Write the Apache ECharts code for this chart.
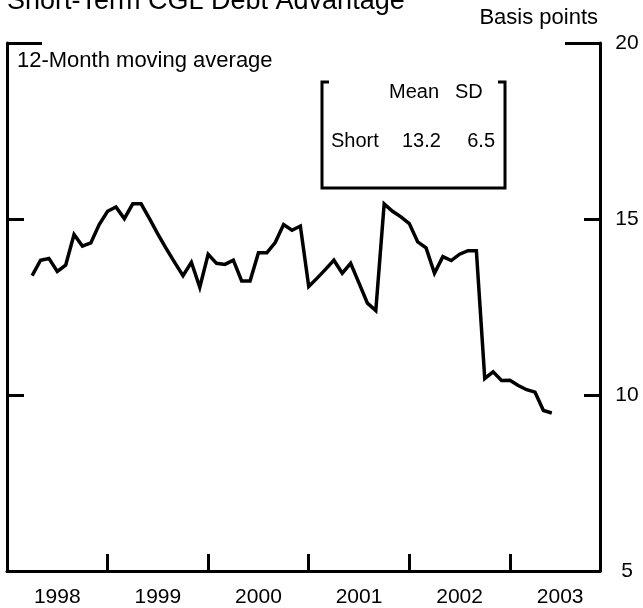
<!DOCTYPE html>
<html>
<head>
<meta charset="utf-8">
<script src="https://cdn.jsdelivr.net/npm/echarts@6/dist/echarts.min.js"></script>
<style>
html,body{margin:0;padding:0;background:#fff;}
#chart{width:643px;height:608px;}
</style>
</head>
<body>
<div id="chart"></div>
<script>
// Monthly 12-month moving average, basis points, from April 1998 (month index 3, Jan 1998 = 0)
const startMonthIndex = 3;
const values = [
  13.39, 13.83, 13.88, 13.51, 13.69, 14.56, 14.23, 14.32, 14.84,
  15.22, 15.34, 15.01, 15.43, 15.43, 15.01, 14.57, 14.16, 13.77, 13.39,
  13.77, 13.06, 14.00, 13.74, 13.71, 13.83, 13.24, 13.24, 14.04, 14.04,
  14.33, 14.84, 14.68, 14.80, 13.08, 13.32, 13.57, 13.83, 13.46, 13.74,
  13.18, 12.61, 12.40, 15.43, 15.22, 15.06, 14.87, 14.35, 14.18, 13.46,
  13.93, 13.82, 14.00, 14.10, 14.10, 10.47, 10.66, 10.41, 10.42, 10.27,
  10.15, 10.08, 9.56, 9.49
];
const yearLabels = ['1998', '1999', '2000', '2001', '2002', '2003'];
const yTicks = [5, 10, 15, 20];
const statsHeader = ['Mean', 'SD'];
const statsRow = ['Short', '13.2', '6.5'];

const seriesData = values.map((v, i) => [startMonthIndex + i, v]);
const yearTickValues = yearLabels.slice(1).map((_, i) => 12 * (i + 1));
const yearLabelValues = yearLabels.map((_, i) => 12 * i + 6);

const chart = echarts.init(document.getElementById('chart'), null, {renderer: 'canvas'});
const black = '#000';
const fontFamily = '"Liberation Sans", Arial, Helvetica, sans-serif';

chart.setOption({
  animation: false,
  backgroundColor: '#fff',
  grid: {left: 7, right: 43, top: 43, bottom: 34, containLabel: false},
  xAxis: {
    type: 'value', min: 0, max: 70.75,
    axisLine: {show: true, onZero: false, lineStyle: {color: black, width: 3}},
    axisTick: {show: true, inside: true, length: 17, customValues: yearTickValues, lineStyle: {color: black, width: 3}},
    axisLabel: {
      show: true, customValues: yearLabelValues, margin: 16,
      color: black, fontSize: 21, fontFamily: fontFamily,
      formatter: v => yearLabels[Math.round((v - 6) / 12)] || ''
    },
    splitLine: {show: false}
  },
  yAxis: [
    {
      type: 'value', position: 'right', min: 5, max: 20, interval: 5,
      axisLine: {show: true, onZero: false, lineStyle: {color: black, width: 3}},
      axisTick: {show: true, inside: true, length: 16, customValues: [10, 15], lineStyle: {color: black, width: 3}},
      axisLabel: {show: true, customValues: yTicks, margin: 27, align: 'center', color: black, fontSize: 21, fontFamily: fontFamily},
      splitLine: {show: false}
    },
    {
      type: 'value', position: 'right', min: 5, max: 20, interval: 5,
      axisLine: {show: false, onZero: false},
      axisTick: {show: true, inside: true, length: 35, customValues: [20], lineStyle: {color: black, width: 3}},
      axisLabel: {show: false},
      splitLine: {show: false}
    },
    {
      type: 'value', position: 'left', min: 5, max: 20, interval: 5,
      axisLine: {show: true, onZero: false, lineStyle: {color: black, width: 3}},
      axisTick: {show: true, inside: true, length: 17, customValues: [10, 15], lineStyle: {color: black, width: 3}},
      axisLabel: {show: false},
      splitLine: {show: false}
    },
    {
      type: 'value', position: 'left', min: 5, max: 20, interval: 5,
      axisLine: {show: false, onZero: false},
      axisTick: {show: true, inside: true, length: 35, customValues: [20], lineStyle: {color: black, width: 3}},
      axisLabel: {show: false},
      splitLine: {show: false}
    }
  ],
  series: [{
    type: 'line',
    yAxisIndex: 0,
    data: seriesData,
    symbol: 'none',
    smooth: false,
    lineStyle: {color: black, width: 3.5, join: 'miter'}
  }],
  graphic: [
    {type: 'text', x: 7, y: 2, style: {text: 'Short-Term CGL Debt Advantage', font: '27px ' + fontFamily, fill: black, verticalAlign: 'middle', align: 'left'}},
    {type: 'text', x: 598, y: 18, style: {text: 'Basis points', font: '22px ' + fontFamily, fill: black, verticalAlign: 'middle', align: 'right'}},
    {type: 'text', x: 17, y: 61, style: {text: '12-Month moving average', font: '22px ' + fontFamily, fill: black, verticalAlign: 'middle', align: 'left'}},
    {type: 'polyline', shape: {points: [[329, 82], [322, 82], [322, 188], [505, 188], [505, 82], [498, 82]]}, style: {stroke: black, lineWidth: 3, fill: null}},
    {type: 'text', x: 389, y: 92, style: {text: statsHeader[0], font: '20px ' + fontFamily, fill: black, verticalAlign: 'middle', align: 'left'}},
    {type: 'text', x: 455, y: 92, style: {text: statsHeader[1], font: '20px ' + fontFamily, fill: black, verticalAlign: 'middle', align: 'left'}},
    {type: 'text', x: 331, y: 141, style: {text: statsRow[0], font: '20px ' + fontFamily, fill: black, verticalAlign: 'middle', align: 'left'}},
    {type: 'text', x: 402, y: 141, style: {text: statsRow[1], font: '20px ' + fontFamily, fill: black, verticalAlign: 'middle', align: 'left'}},
    {type: 'text', x: 495, y: 141, style: {text: statsRow[2], font: '20px ' + fontFamily, fill: black, verticalAlign: 'middle', align: 'right'}}
  ]
});
</script>
</body>
</html>
